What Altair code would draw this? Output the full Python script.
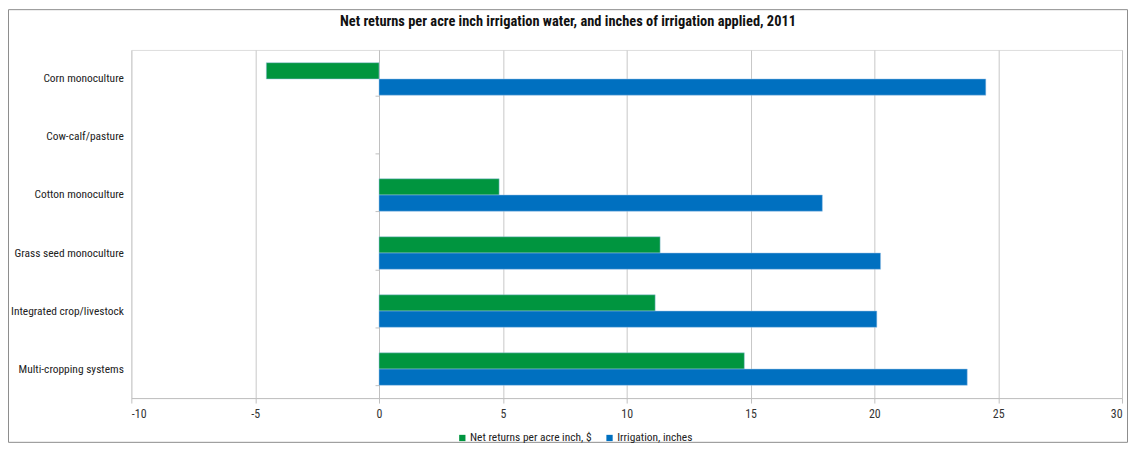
import altair as alt
import pandas as pd

categories = [
    "Corn monoculture",
    "Cow-calf/pasture",
    "Cotton monoculture",
    "Grass seed monoculture",
    "Integrated crop/livestock",
    "Multi-cropping systems",
]
net_returns = [-4.55, None, 4.85, 11.35, 11.15, 14.75]
irrigation = [24.5, None, 17.9, 20.25, 20.1, 23.75]
series_names = ["Net returns per acre inch, $", "Irrigation, inches"]
series_colors = ["#00953F", "#0070C0"]
x_ticks = [-10, -5, 0, 5, 10, 15, 20, 25, 30]

rows = []
for c, n, i in zip(categories, net_returns, irrigation):
    rows.append({"category": c, "series": series_names[0], "value": n})
    rows.append({"category": c, "series": series_names[1], "value": i})
df = pd.DataFrame(rows)

FONT = "Roboto Condensed, Liberation Sans Narrow, Arial Narrow, Liberation Sans, Arial"

bars = alt.Chart(df).mark_bar(stroke="#9cc3e6", strokeWidth=0.5).encode(
    x=alt.X(
        "value:Q",
        scale=alt.Scale(domain=[-10, 30], nice=False, zero=False),
        axis=alt.Axis(
            values=x_ticks, title=None, grid=True, gridColor="#c8c8c8",
            domainColor="#bfbfbf", tickColor="#bfbfbf", tickSize=5,
            labelFontSize=12, labelColor="#333333", labelFont=FONT,
            labelPadding=6, labelExpr="'' + datum.value",
        ),
    ),
    y=alt.Y(
        "category:N",
        scale=alt.Scale(domain=categories, paddingInner=0.44, paddingOuter=0.22),
        axis=alt.Axis(
            title=None, orient="left", offset=-249, domain=True,
            domainColor="#bfbfbf", ticks=True, tickColor="#bfbfbf", tickSize=4,
            tickBand="extent", grid=False, labelPadding=253,
            labelFontSize=11.5, labelColor="#222222", labelFont=FONT,
            labelExpr="datum.value == 'Cow-calf/pasture' ? datum.value + '\u00a0\u00a0\u00a0' : datum.value",
        ),
    ),
    yOffset=alt.YOffset("series:N", scale=alt.Scale(domain=series_names)),
    color=alt.Color(
        "series:N",
        scale=alt.Scale(domain=series_names, range=series_colors),
        legend=alt.Legend(
            title=None, orient="none", direction="horizontal",
            legendX=327, legendY=384, symbolType="square", symbolSize=40,
            symbolStrokeWidth=0, labelFontSize=11.5, labelFont=FONT,
            labelColor="#222222", columnPadding=12, labelOffset=2,
        ),
    ),
)

frame = alt.Chart(pd.DataFrame({"k": [0]})).mark_rect(
    filled=False, stroke="#8c8c8c", strokeWidth=1
).encode(
    x=alt.value(-123.5), x2=alt.value(1001.5),
    y=alt.value(-40.5), y2=alt.value(394.5),
)

chart = alt.layer(frame, bars).properties(
    width=996,
    height=350,
    autosize=alt.AutoSizeParams(type="none"),
    padding={"left": 124, "top": 41, "right": 6, "bottom": 45},
    title=alt.Title(
        "Net returns per acre inch irrigation water, and inches of irrigation applied, 2011",
        fontSize=14.5, fontWeight="bold", font=FONT, color="#111111",
        anchor="middle", frame="bounds", offset=0, dy=20,
    ),
).configure_view(stroke="#d9d9d9").configure(background="white")

chart.save("out.html", embed_options={"renderer": "svg", "actions": False})
